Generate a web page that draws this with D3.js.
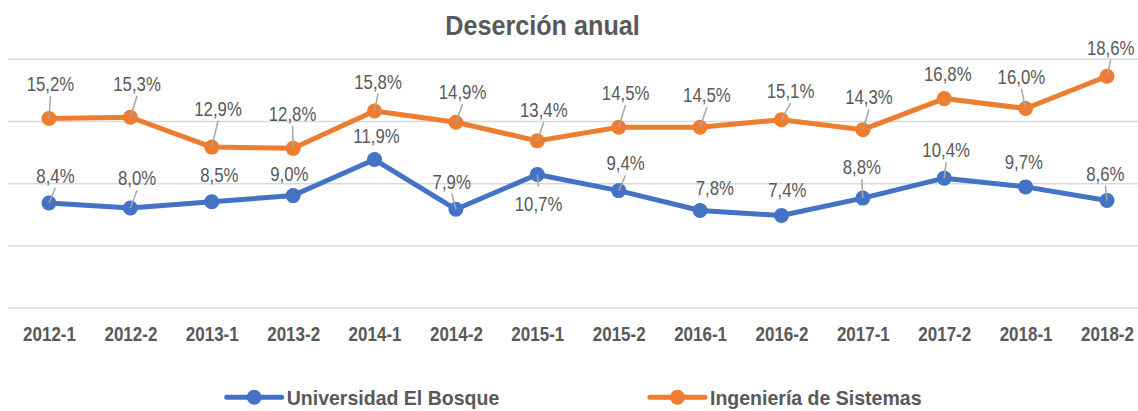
<!DOCTYPE html>
<html>
<head>
<meta charset="utf-8">
<script src="https://cdn.jsdelivr.net/npm/d3@7"></script>
<style>
  html, body { margin: 0; padding: 0; background: #fff; }
  svg { display: block; }
  text { font-family: "Liberation Sans", Arial, sans-serif; fill: #595959; }
</style>
</head>
<body>
<svg id="chart" width="1138" height="411"></svg>
<script>
// ---- Data ----
const title = "Deserción anual";
const categories = ["2012-1","2012-2","2013-1","2013-2","2014-1","2014-2","2015-1","2015-2","2016-1","2016-2","2017-1","2017-2","2018-1","2018-2"];
const seriesNames = ["Universidad El Bosque", "Ingeniería de Sistemas"];
const universidad = [8.4, 8.0, 8.5, 9.0, 11.9, 7.9, 10.7, 9.4, 7.8, 7.4, 8.8, 10.4, 9.7, 8.6];
const ingenieria  = [15.2, 15.3, 12.9, 12.8, 15.8, 14.9, 13.4, 14.5, 14.5, 15.1, 14.3, 16.8, 16.0, 18.6];
const yTicks = [0, 5, 10, 15, 20];

// ---- Label placement (style config: offsets of label centre from point, leader on/off) ----
const uniLabelOffsets = [[6.5,-27.8],[6.7,-30.3],[7.6,-27.1],[-3.8,-21.7],[2,-23.6],[-4.2,-28.2],[1.2,29],[6.9,-27.9],[14.7,-22.8],[5.8,-25.5],[-1,-31.2],[1.9,-28.5],[-1.7,-25.5],[-1.6,-27.4]];
const uniLeaders = [1,1,0,0,0,1,1,1,0,0,1,1,0,1];
const ingLabelOffsets = [[1.5,-35],[6.7,-34],[6.3,-39],[-0.6,-35],[3.5,-30],[6.6,-30.6],[6.5,-31.4],[6.9,-34.7],[6.8,-32.4],[9.1,-29],[6.1,-32.7],[3.6,-24.9],[-4.2,-32.4],[3.7,-29.1]];
const ingLeaders = [1,1,1,1,1,1,1,1,1,1,1,0,1,1];

const colors = ["#4472C4", "#ED7D31"];

// ---- Layout ----
const W = 1138, H = 411;
const svg = d3.select("#chart");

const x = d3.scalePoint().domain(categories).range([8.3, 1147.7]).padding(0.5);
const y = d3.scaleLinear().domain([0, 20]).range([307.5, 58.8]);

const locale = d3.formatLocale({decimal: ",", thousands: ".", grouping: [3], currency: ["$", ""]});
const fmt = v => locale.format(".1f")(v) + "%";

// Title
svg.append("text")
  .attr("transform", `translate(542.5,35) scale(0.9,1)`)
  .attr("text-anchor", "middle")
  .style("font-size", "28px")
  .style("font-weight", "bold")
  .text(title);

// Gridlines
const grid = svg.append("g")
  .attr("transform", "translate(8,0)")
  .call(d3.axisLeft(y).tickValues(yTicks).tickSize(-(W - 8)).tickFormat(""));
grid.select(".domain").remove();
grid.selectAll(".tick line").attr("stroke", "#D9D9D9").attr("stroke-width", 1.5);

// X axis
const xAxis = svg.append("g")
  .attr("transform", `translate(0,${y(0)})`)
  .call(d3.axisBottom(x).tickSize(0).tickPadding(0));
xAxis.select(".domain").remove();
xAxis.selectAll(".tick text")
  .attr("y", 33.5).attr("dy", 0)
  .attr("transform", "scale(0.85,1)")
  .style("font-size", "20px")
  .style("font-weight", "bold")
  .style("fill", "#595959");

// Series
const series = [
  {name: seriesNames[0], values: universidad, color: colors[0], offsets: uniLabelOffsets, leaders: uniLeaders},
  {name: seriesNames[1], values: ingenieria, color: colors[1], offsets: ingLabelOffsets, leaders: ingLeaders}
];

const line = d3.line().x((d, i) => x(categories[i])).y(d => y(d));

series.forEach(s => {
  svg.append("path")
    .datum(s.values)
    .attr("d", line)
    .attr("fill", "none")
    .attr("stroke", s.color)
    .attr("stroke-width", 5)
    .attr("stroke-linejoin", "round")
    .attr("stroke-linecap", "round");

  svg.append("g").selectAll("circle")
    .data(s.values)
    .join("circle")
    .attr("cx", (d, i) => x(categories[i]))
    .attr("cy", d => y(d))
    .attr("r", 7.5)
    .attr("fill", s.color);
});

// Leader lines + labels
series.forEach(s => {
  const g = svg.append("g");
  s.values.forEach((v, i) => {
    const px = x(categories[i]), py = y(v);
    const [dx, dy] = s.offsets[i];
    const lx = px + dx, ly = py + dy;
    if (s.leaders[i]) {
      const above = dy < 0;
      const startY = above ? ly + 7.5 + 5 : ly - 7.5 - 9;
      g.append("line")
        .attr("x1", lx).attr("y1", startY)
        .attr("x2", px).attr("y2", py)
        .attr("stroke", "#A6A6A6")
        .attr("stroke-width", 1.5);
    }
    g.append("text")
      .attr("transform", `translate(${lx},${ly + 7.5}) scale(0.8,1)`)
      .attr("text-anchor", "middle")
      .style("font-size", "21px")
      .text(fmt(v));
  });
});

// Legend
const legendItems = [
  {name: seriesNames[0], color: colors[0], x0: 226.7},
  {name: seriesNames[1], color: colors[1], x0: 650}
];
const lg = svg.append("g");
legendItems.forEach(it => {
  const ly = 397.3;
  lg.append("line")
    .attr("x1", it.x0).attr("x2", it.x0 + 55)
    .attr("y1", ly).attr("y2", ly)
    .attr("stroke", it.color).attr("stroke-width", 5).attr("stroke-linecap", "round");
  lg.append("circle")
    .attr("cx", it.x0 + 27.5).attr("cy", ly).attr("r", 7.5).attr("fill", it.color);
  lg.append("text")
    .attr("transform", `translate(${it.x0 + 60},405) scale(0.93,1)`)
    .style("font-size", "21px")
    .style("font-weight", "bold")
    .text(it.name);
});
</script>
</body>
</html>
